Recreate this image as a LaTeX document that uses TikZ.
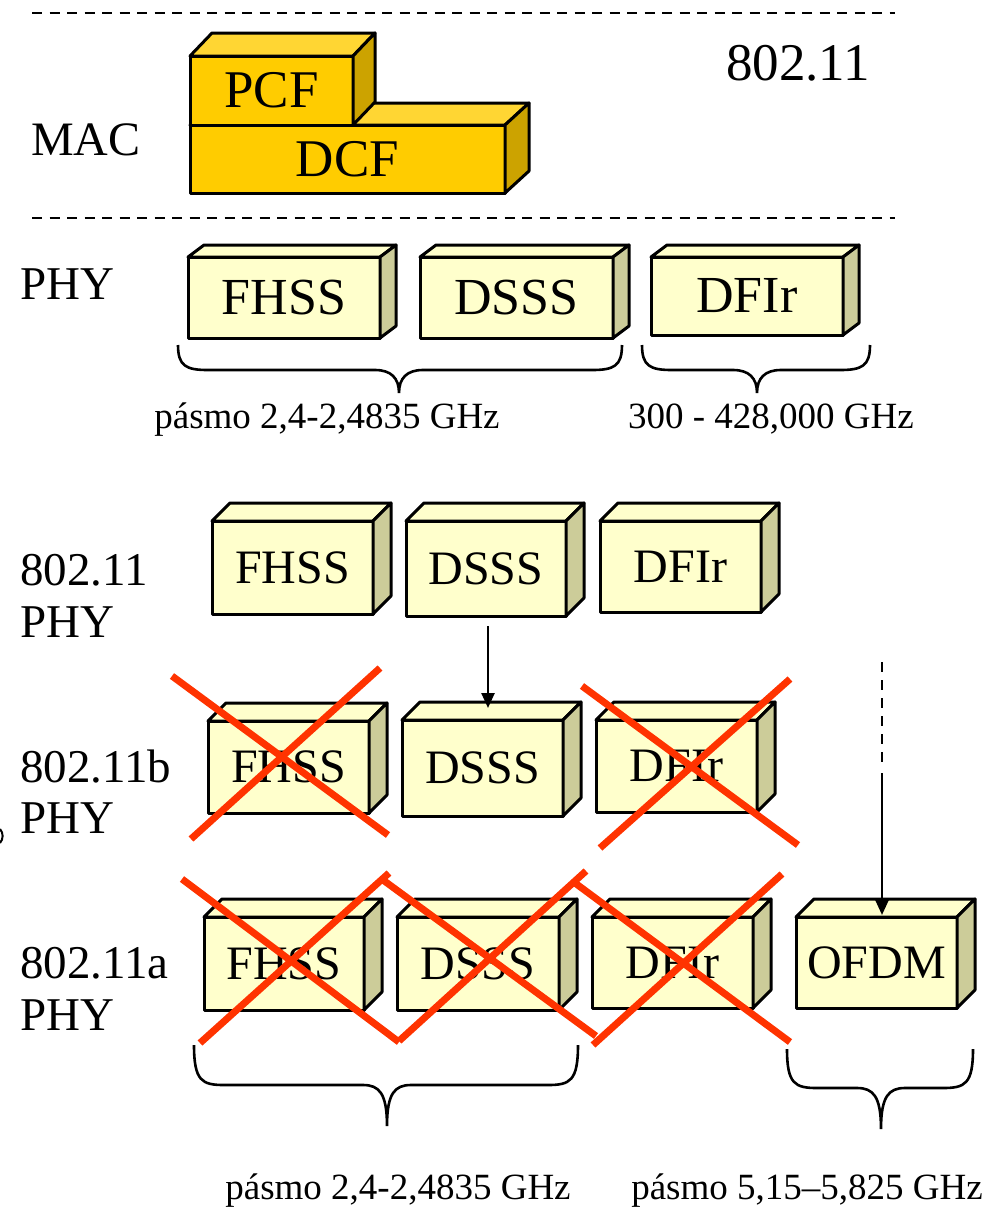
\documentclass[tikz,border=0pt]{standalone}
\usepackage{fontspec}
\setmainfont{Liberation Serif}
\usetikzlibrary{arrows.meta}
\definecolor{boxfront}{HTML}{FFFFCC}
\definecolor{boxside}{HTML}{CCCC99}
\definecolor{macfront}{HTML}{FFCC00}
\definecolor{mactop}{HTML}{FFD633}
\definecolor{macside}{HTML}{CCA300}
\definecolor{xred}{HTML}{FF3300}
\newcommand\fsz[1]{\fontsize{#1}{#1}\selectfont}
\newcommand\cubefaces[5]{%
  \draw[face, fill=#4] (#1.north west) -- ++(#2,-#3) -- ([shift={(#2,-#3)}]#1.north east) -- (#1.north east) -- cycle;
  \draw[face, fill=#5] (#1.north east) -- ++(#2,-#3) -- ([shift={(#2,-#3)}]#1.south east) -- (#1.south east) -- cycle;
}
\newcommand\curlybr[6]{%
  \draw[brcline] (#1,#4) .. controls (#1,#5-4) and (#1+8,#5) .. (#1+30,#5) -- (#3-24,#5)
    .. controls (#3-8,#5) and (#3,#5+8) .. (#3,#6)
    .. controls (#3,#5+8) and (#3+8,#5) .. (#3+24,#5) -- (#2-30,#5)
    .. controls (#2-8,#5) and (#2,#5-4) .. (#2,#4);
}
\tikzset{
  every node/.style={inner sep=0pt, outer sep=0pt},
  face/.style={draw, line width=3pt, line join=round},
  frontbox/.style={draw, line width=3pt, line join=round, fill=boxfront},
  macbox/.style={draw, line width=3pt, line join=round, fill=macfront, font=\fsz{53}},
  rowone/.style={frontbox, font=\fsz{52}},
  rowlow/.style={frontbox, font=\fsz{48}},
  cross/.style={draw=xred, line width=7pt},
  sepline/.style={line width=2.5pt, dash pattern=on 10pt off 7.5pt},
  brcline/.style={line width=2.6pt},
  lbl/.style={anchor=base west},
  freq/.style={anchor=base, font=\fsz{37}},
  arr/.style={line width=2.5pt, -{Triangle[length=15pt, width=13pt]}},
}
\begin{document}
\begin{tikzpicture}[x=1pt, y=-1pt]
\useasboundingbox (0,0) rectangle (990,1208);
% separators
\draw[sepline] (32,13) -- (895,13);
\draw[sepline] (32,218) -- (895,218);
% top texts
\node[lbl, font=\fsz{53}] (std) at (726,80) {802.11};
\node[lbl, font=\fsz{48}] (mac) at (31,155) {MAC};
\node[lbl, font=\fsz{47}] (phy) at (20,299) {PHY};
% MAC boxes
\node[macbox, minimum width=315, minimum height=68] (dcf) at (347.5,159) {DCF};
\cubefaces{dcf}{24}{22}{mactop}{macside}
\node[macbox, minimum width=163, minimum height=69] (pcf) at (271.5,90.5) {PCF};
\cubefaces{pcf}{22}{23}{mactop}{macside}
% PHY row
\node[rowone, minimum width=192, minimum height=81] (p1) at (284,297.5) {FHSS};
\cubefaces{p1}{16}{12}{boxfront}{boxside}
\node[rowone, minimum width=193, minimum height=81] (p2) at (516.5,297.5) {DSSS};
\cubefaces{p2}{16}{12}{boxfront}{boxside}
\node[rowone, minimum width=192, minimum height=78] (p3) at (747,296) {DFIr};
\cubefaces{p3}{16}{12}{boxfront}{boxside}
\curlybr{178}{622}{399}{345}{370}{393}
\curlybr{642}{870}{757}{345}{370}{393}
\node[freq] (f1) at (327,428) {pásmo 2,4-2,4835 GHz};
\node[freq] (f2) at (771,428) {300 - 428,000 GHz};
% lower labels
\node[lbl, font=\fsz{47}] (la1) at (20,585) {802.11};
\node[lbl, font=\fsz{47}] (la2) at (20,637) {PHY};
\node[lbl, font=\fsz{47}] (lb1) at (20,782) {802.11b};
\node[lbl, font=\fsz{47}] (lb2) at (20,833) {PHY};
\node[lbl, font=\fsz{47}] (lc1) at (20,978) {802.11a};
\node[lbl, font=\fsz{47}] (lc2) at (20,1030) {PHY};
% row A
\node[rowlow, minimum width=161, minimum height=93] (a1) at (292.5,567.5) {FHSS};
\cubefaces{a1}{18}{18}{boxfront}{boxside}
\node[rowlow, minimum width=160, minimum height=95] (a2) at (486,568.5) {DSSS};
\cubefaces{a2}{18}{18}{boxfront}{boxside}
\node[rowlow, minimum width=161, minimum height=91] (a3) at (680.5,566.5) {DFIr};
\cubefaces{a3}{18}{18}{boxfront}{boxside}
% row B
\node[rowlow, minimum width=161, minimum height=92] (b1) at (288.5,767) {FHSS};
\cubefaces{b1}{18}{18}{boxfront}{boxside}
\node[rowlow, minimum width=161, minimum height=96] (b2) at (482.5,768) {DSSS};
\cubefaces{b2}{18}{18}{boxfront}{boxside}
\node[rowlow, minimum width=161, minimum height=92] (b3) at (676.5,766) {DFIr};
\cubefaces{b3}{18}{18}{boxfront}{boxside}
% row C
\node[rowlow, minimum width=160, minimum height=93] (c1) at (284,963.5) {FHSS};
\cubefaces{c1}{18}{18}{boxfront}{boxside}
\node[rowlow, minimum width=162, minimum height=93] (c2) at (478,963.5) {DSSS};
\cubefaces{c2}{18}{18}{boxfront}{boxside}
\node[rowlow, minimum width=161, minimum height=91] (c3) at (672.5,962.5) {DFIr};
\cubefaces{c3}{18}{18}{boxfront}{boxside}
\node[rowlow, minimum width=161, minimum height=91] (c4) at (876.5,962.5) {OFDM};
\cubefaces{c4}{18}{18}{boxfront}{boxside}
% arrows
\coordinate (aout) at ([xshift=2pt, yshift=-10pt]a2.south);
\coordinate (bin) at ([yshift=12pt]b2.north);
\draw[arr] (aout) -- (aout |- bin);
\coordinate (ofin) at ([xshift=5.5pt, yshift=2pt]c4.north);
\coordinate (dtopy) at (0,662);
\coordinate (dboty) at (0,767);
\coordinate (stopy) at (0,773);
\draw[line width=2.5pt, dash pattern=on 10pt off 8pt] (ofin |- dtopy) -- (ofin |- dboty);
\draw[arr] (ofin |- stopy) -- (ofin);
% crosses
\draw[cross] (172,676) -- (388,835);
\draw[cross] (380,668) -- (191,839);
\draw[cross] (582,686) -- (798,845);
\draw[cross] (790,679) -- (600,848);
\draw[cross] (182,879) -- (399,1042);
\draw[cross] (389,873) -- (200,1043);
\draw[cross] (383,880) -- (596,1036);
\draw[cross] (586,871) -- (399,1041);
\draw[cross] (575,883) -- (790,1042);
\draw[cross] (782,874) -- (593,1045);
% bottom braces
\curlybr{194}{578}{387}{1045}{1085}{1126}
\curlybr{787}{973}{881}{1049}{1088}{1129}
\node[freq] (f3) at (398,1199) {pásmo 2,4-2,4835 GHz};
\node[freq] (f4) at (807,1199) {pásmo 5,15–5,825 GHz};
% fragment at left edge
\draw[line width=2pt] (0,829) .. controls (3.5,833) and (3.5,839) .. (0,843);
\end{tikzpicture}
\end{document}
